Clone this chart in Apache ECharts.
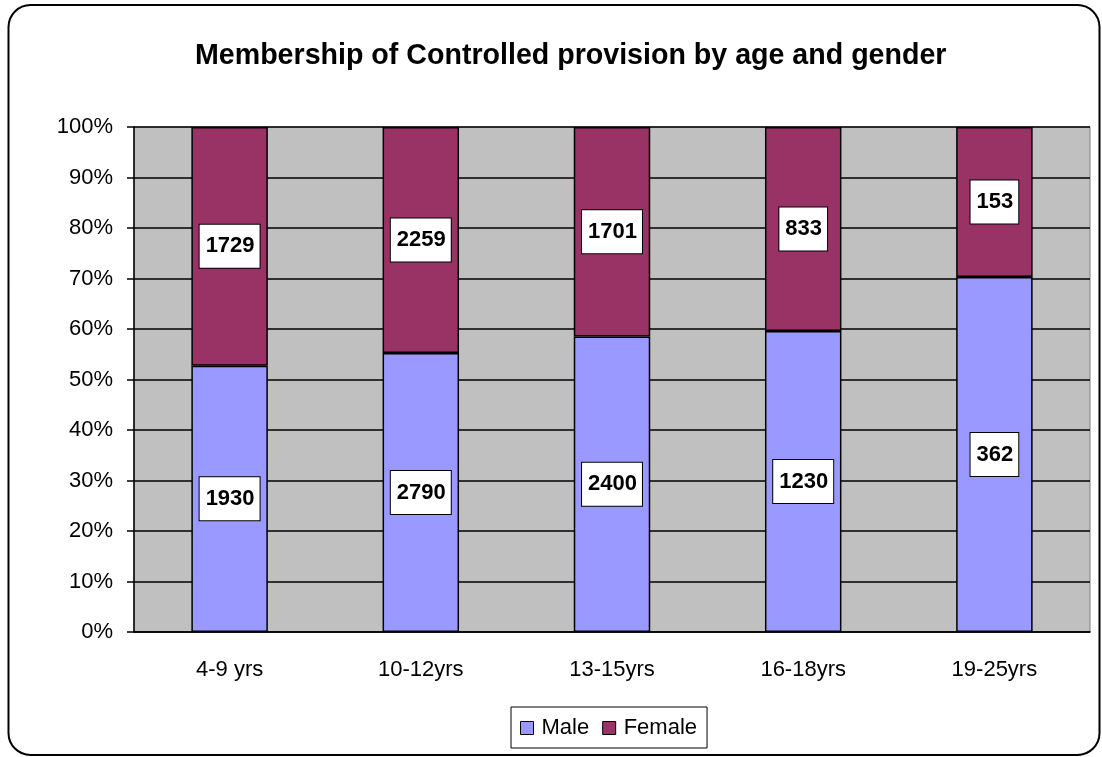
<!DOCTYPE html>
<html>
<head>
<meta charset="utf-8">
<script src="https://cdn.jsdelivr.net/npm/echarts@6/dist/echarts.min.js"></script>
<style>
  html, body { margin: 0; padding: 0; background: #fff; }
  #chart { width: 1102px; height: 757px; }
</style>
</head>
<body>
<div id="chart"></div>
<script>
const ageGroups = ['4-9 yrs', '10-12yrs', '13-15yrs', '16-18yrs', '19-25yrs'];
const maleCounts = [1930, 2790, 2400, 1230, 362];
const femaleCounts = [1729, 2259, 1701, 833, 153];
const yTicks = [0, 0.1, 0.2, 0.3, 0.4, 0.5, 0.6, 0.7, 0.8, 0.9, 1];

const FONT = 'Liberation Sans, Arial, sans-serif';

// share of each group's total, the chart is 100% stacked
const totals = maleCounts.map((m, i) => m + femaleCounts[i]);
const maleShare = maleCounts.map((m, i) => m / totals[i]);
const femaleShare = femaleCounts.map((f, i) => f / totals[i]);

const labelBox = {
    show: true,
    position: 'inside',
    color: '#000',
    fontFamily: FONT,
    fontWeight: 'bold',
    fontSize: 22,
    backgroundColor: '#fff',
    borderColor: '#000',
    borderWidth: 1,
    padding: [11, 5, 10, 6]
};

const chart = echarts.init(document.getElementById('chart'));
chart.setOption({
    animation: false,
    backgroundColor: '#fff',
    title: {
        text: 'Membership of Controlled provision by age and gender',
        left: 190,
        top: 37,
        textStyle: { fontFamily: FONT, fontSize: 28.6, fontWeight: 'bold', color: '#000' }
    },
    legend: {
        left: 511,
        top: 707,
        data: ['Male', 'Female'],
        itemWidth: 13,
        itemHeight: 13,
        itemGap: 13,
        padding: [10, 10, 9, 9],
        borderColor: '#000',
        borderWidth: 1,
        icon: 'rect',
        itemStyle: { borderColor: '#000', borderWidth: 1 },
        textStyle: { fontFamily: FONT, fontSize: 22, color: '#000', padding: [0, 0, 0, 3] }
    },
    grid: {
        left: 134,
        right: 12,
        top: 127,
        bottom: 125,
        show: true,
        backgroundColor: '#C0C0C0',
        borderColor: '#808080',
        borderWidth: 1
    },
    xAxis: {
        type: 'category',
        data: ageGroups,
        axisLine: { lineStyle: { color: '#000', width: 1.5 } },
        axisTick: { length: 8, lineStyle: { color: '#000', width: 1.5 } },
        axisLabel: { fontFamily: FONT, fontSize: 22, color: '#000', margin: 27 },
        splitLine: { show: false }
    },
    yAxis: {
        type: 'value',
        min: yTicks[0],
        max: yTicks[yTicks.length - 1],
        interval: 0.1,
        axisLine: { show: true, lineStyle: { color: '#000', width: 1.5 } },
        axisTick: { show: true, length: 7, lineStyle: { color: '#000', width: 1.5 } },
        axisLabel: {
            fontFamily: FONT, fontSize: 22, color: '#000', margin: 21,
            formatter: v => Math.round(v * 100) + '%'
        },
        splitLine: { lineStyle: { color: '#000', width: 1.5 } }
    },
    series: [
        {
            name: 'Male',
            type: 'bar',
            stack: 'all',
            barWidth: '40%',
            data: maleShare,
            itemStyle: { color: '#9999FF', borderColor: '#000', borderWidth: 1.5 },
            label: Object.assign({}, labelBox, {
                formatter: p => String(maleCounts[p.dataIndex])
            })
        },
        {
            name: 'Female',
            type: 'bar',
            stack: 'all',
            barWidth: '40%',
            data: femaleShare,
            itemStyle: { color: '#993366', borderColor: '#000', borderWidth: 1.5 },
            label: Object.assign({}, labelBox, {
                formatter: p => String(femaleCounts[p.dataIndex])
            })
        }
    ],
    graphic: [{
        type: 'rect',
        silent: true,
        z: -1,
        shape: { x: 8.5, y: 5, width: 1091, height: 750, r: 22 },
        style: { fill: 'none', stroke: '#000', lineWidth: 2 }
    }]
});
</script>
</body>
</html>
